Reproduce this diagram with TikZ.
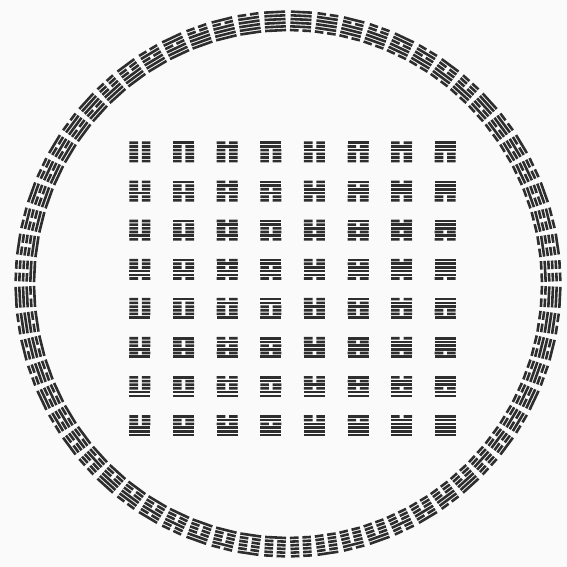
\documentclass[tikz,border=0pt]{standalone}
\tikzset{hexcol/.style={fill=black!82}}
\newcommand{\hexgram}[1]{%
  \foreach \i in {0,...,5}{%
    \pgfmathtruncatemacro{\bitv}{mod(floor(#1/(2^\i)),2)}%
    \pgfmathsetmacro{\yy}{9.2-\i*3.68}%
    \ifnum\bitv=1
      \fill[hexcol] (-10.5,\yy-1.3) rectangle (10.5,\yy+1.3);
    \else
      \fill[hexcol] (-10.5,\yy-1.3) rectangle (-1.9,\yy+1.3) (1.9,\yy-1.3) rectangle (10.5,\yy+1.3);
    \fi
  }%
}
\begin{document}
\begin{tikzpicture}[x=1pt,y=1pt]
\useasboundingbox (-288,-283) rectangle (279,284);
\fill[white!98!black] (-288,-283) rectangle (279,284);
% square arrangement
\foreach \r in {0,...,7}{
  \foreach \c in {0,...,7}{
    \pgfmathtruncatemacro{\n}{8*\r+\c}
    \begin{scope}[shift={(-148+43.6*\c,132-39.1*\r)}]
      \hexgram{\n}
    \end{scope}
  }
}
% circular arrangement
\foreach \k in {0,...,31}{
  \pgfmathsetmacro{\angL}{90+(\k+0.5)*5.625}
  \pgfmathsetmacro{\angR}{90-(\k+0.5)*5.625}
  \pgfmathtruncatemacro{\nL}{63-\k}
  \pgfmathtruncatemacro{\nR}{31-\k}
  \begin{scope}[shift={(\angL:263)},rotate=\angL-90]
    \hexgram{\nL}
  \end{scope}
  \begin{scope}[shift={(\angR:263)},rotate=\angR-90]
    \hexgram{\nR}
  \end{scope}
}
\end{tikzpicture}
\end{document}
